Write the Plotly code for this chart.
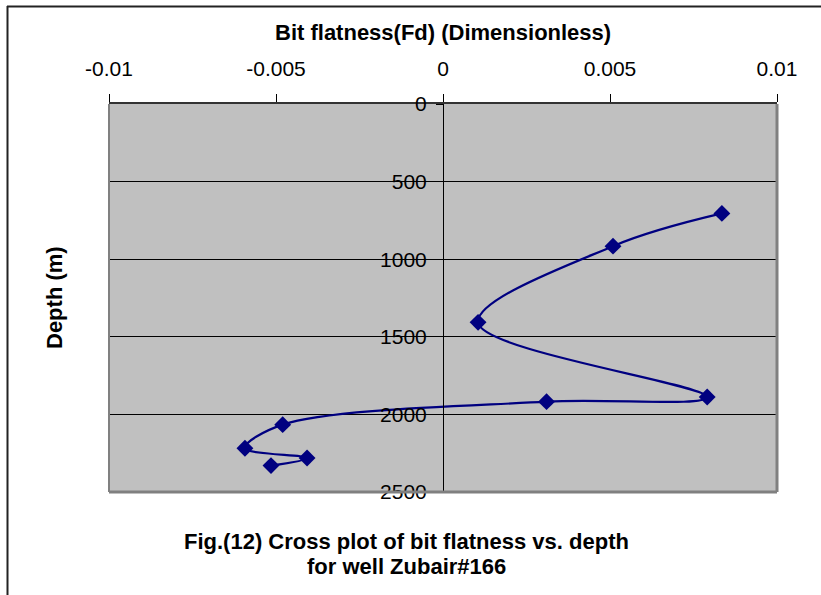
import plotly.graph_objects as go

# Bit flatness (Fd) readings against depth for well Zubair#166
bit_flatness = [0.00835, 0.00509, 0.00105, 0.00791, 0.00310, -0.00480, -0.00593, -0.00407, -0.00515]
depth_m = [705, 916, 1407, 1888, 1918, 2066, 2218, 2281, 2330]

x_ticks = [-0.01, -0.005, 0, 0.005, 0.01]
x_tick_labels = ["-0.01", "-0.005", "0", "0.005", "0.01"]
y_ticks = [0, 500, 1000, 1500, 2000, 2500]
y_tick_labels = ["0", "500", "1000", "1500", "2000", "2500"]

W, H = 821, 595
L, R, T, B = 109, 44, 104, 103
pw, ph = W - L - R, H - T - B


def px(x):
    return (x - L) / pw


def py(y):
    return (H - B - y) / ph


FONT = "Liberation Sans, Arial, sans-serif"

fig = go.Figure()
fig.add_trace(go.Scatter(
    x=bit_flatness, y=depth_m,
    mode="lines+markers",
    line=dict(color="#000080", width=2.2, shape="spline", smoothing=1.0),
    marker=dict(symbol="diamond", size=13, color="#000080"),
    showlegend=False,
    hoverinfo="x+y",
))

fig.update_layout(
    width=W, height=H,
    margin=dict(l=L, r=R, t=T, b=B, pad=0),
    paper_bgcolor="white",
    plot_bgcolor="#C0C0C0",
    font=dict(family=FONT, size=21, color="black"),
    xaxis=dict(
        range=[-0.01, 0.01], side="top",
        tickvals=x_ticks, ticktext=x_tick_labels,
        ticks="outside", ticklen=8, tickwidth=1, tickcolor="black",
        ticklabelstandoff=10,
        showline=True, linecolor="#333333", linewidth=2,
        showgrid=False, zeroline=False,
        tickfont=dict(size=21),
    ),
    yaxis=dict(
        range=[2500, 0], anchor="free", position=0.5,
        tickvals=y_ticks, ticktext=y_tick_labels,
        ticks="outside", ticklen=7, tickwidth=1, tickcolor="black",
        ticklabelstandoff=5,
        showline=True, linecolor="black", linewidth=1,
        showgrid=True, gridcolor="black", gridwidth=1,
        zeroline=False,
        tickfont=dict(size=21),
    ),
)

# plot-area border: gray on left, right and bottom
for x0, y0, x1, y1, w in [(0, 0, 0, 1, 2), (1, 0, 1, 1, 3), (0, 0, 1, 0, 3)]:
    fig.add_shape(type="line", xref="paper", yref="paper",
                  x0=x0, y0=y0, x1=x1, y1=y1,
                  line=dict(color="#808080", width=w), layer="above")

# outer chart frame (top and left edges)
fig.add_shape(type="line", xref="paper", yref="paper",
              x0=px(7), y0=py(6.5), x1=px(W + 5), y1=py(6.5),
              line=dict(color="#222222", width=2))
fig.add_shape(type="line", xref="paper", yref="paper",
              x0=px(7.5), y0=py(6), x1=px(7.5), y1=py(H + 5),
              line=dict(color="#222222", width=2))

bold = dict(family=FONT, size=22, color="black")
fig.add_annotation(text="<b>Bit flatness(Fd) (Dimensionless)</b>",
                   xref="paper", yref="paper", x=px(443), y=py(32),
                   xanchor="center", yanchor="middle", showarrow=False, font=bold)
fig.add_annotation(text="<b>Depth (m)</b>", textangle=-90,
                   xref="paper", yref="paper", x=px(54), y=py(298),
                   xanchor="center", yanchor="middle", showarrow=False, font=bold)
fig.add_annotation(text="<b>Fig.(12) Cross plot of bit flatness vs. depth</b>",
                   xref="paper", yref="paper", x=px(406), y=py(541),
                   xanchor="center", yanchor="middle", showarrow=False, font=bold)
fig.add_annotation(text="<b>for well Zubair#166</b>",
                   xref="paper", yref="paper", x=px(406), y=py(566),
                   xanchor="center", yanchor="middle", showarrow=False, font=bold)

fig.write_html("out.html")
